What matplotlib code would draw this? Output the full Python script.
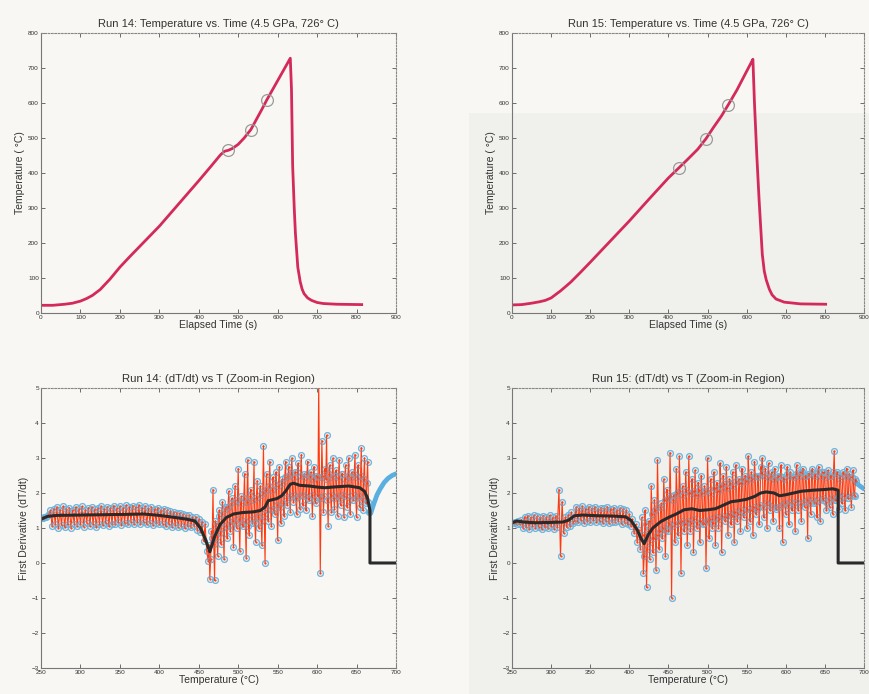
import numpy as np
import matplotlib
matplotlib.use("Agg")
import matplotlib.pyplot as plt
from matplotlib.patches import Rectangle

plt.rcParams['font.family'] = ['Liberation Sans', 'DejaVu Sans']

# ---------------- Temperature vs time ----------------
run14_time = [0, 30, 60, 80, 100, 115, 130, 150, 175, 200, 225, 250, 300, 350, 400, 430, 455,
              465, 475, 485, 500, 515, 532, 545, 560, 572, 590, 610, 625, 632,
              635, 638, 642, 645, 651, 657, 662, 667, 676, 686, 700, 716, 750, 813]
run14_temp = [22, 22, 25, 28, 34, 41, 50, 67, 97, 131, 161, 190, 248, 313, 378, 418, 452,
              462, 465, 470, 482, 500, 524, 551, 582, 608, 644, 684, 714, 728,
              640, 420, 300, 227, 131, 90, 68, 55, 43, 36, 30, 27, 25, 24]
run14_marks_t = [475, 532, 572]
run14_marks_T = [465, 524, 608]

run15_time = [0, 25, 50, 70, 85, 100, 125, 150, 175, 200, 250, 300, 350, 400, 427,
              450, 475, 496, 515, 535, 553, 575, 595, 610, 616,
              620, 626, 632, 640, 645, 650, 658, 665, 675, 696, 738, 802]
run15_temp = [23, 24, 28, 32, 36, 43, 64, 88, 116, 145, 204, 263, 325, 386, 415,
              440, 468, 498, 530, 562, 595, 637, 680, 712, 725,
              600, 450, 320, 168, 120, 95, 68, 52, 40, 31, 26, 25]
run15_marks_t = [427, 496, 553]
run15_marks_T = [415, 498, 595]

# ---------------- dT/dt vs T ----------------
# Run 14 raw derivative, every 2 degC starting at 252 degC
run14_dTdt = [
    1.28, 1.30, 1.32, 1.34, 1.40, 1.50,
    1.05, 1.55, 1.12, 1.60, 1.00, 1.52, 1.08, 1.62, 1.02, 1.55,
    1.10, 1.58, 1.00, 1.50, 1.12, 1.60, 1.05, 1.55, 1.10, 1.62,
    1.04, 1.52, 1.15, 1.58, 1.06, 1.60, 1.10, 1.54, 1.02, 1.56,
    1.12, 1.62, 1.08, 1.55, 1.14, 1.60, 1.05, 1.58, 1.12, 1.64,
    1.10, 1.56, 1.16, 1.62, 1.08, 1.58, 1.15, 1.66, 1.12, 1.60,
    1.18, 1.64, 1.10, 1.60, 1.16, 1.66, 1.12, 1.58, 1.18, 1.62,
    1.10, 1.56, 1.15, 1.60, 1.08, 1.54, 1.14, 1.58, 1.10, 1.52,
    1.12, 1.55, 1.05, 1.50, 1.10, 1.48, 1.04, 1.46, 1.08, 1.44,
    1.02, 1.42, 1.06, 1.40, 1.00, 1.38, 1.05, 1.36, 1.02, 1.30,
    1.05, 1.32, 0.95, 1.25, 0.88, 1.18, 0.62, 1.10, 0.35,
    0.05, -0.45, 0.90, 2.10, -0.50, 1.10, 0.20, 1.50, 0.55, 1.75,
    0.10, 1.60, 0.70, 2.05, 0.90, 1.85, 0.45, 2.20, 1.00, 2.70,
    0.35, 1.90, 1.05, 2.55, 0.15, 2.95, 0.80, 2.10, 1.15, 2.90,
    0.60, 2.35, 1.00, 2.20, 0.50, 3.35, 0.00, 2.55, 1.20, 2.90,
    1.05, 2.45, 1.40, 2.60, 0.65, 2.75, 1.15, 2.40, 1.35, 2.90,
    1.65, 2.75, 1.45, 3.00, 1.75, 2.60, 1.40, 2.85, 1.55, 3.10,
    1.65, 2.55, 1.50, 2.90, 1.80, 2.60, 1.35, 2.75, 1.70, 2.45,
    5.20, -0.30, 3.50, 1.45, 2.70, 3.65, 1.05, 2.80, 1.45, 3.00,
    1.55, 2.65, 1.35, 2.95, 1.65, 2.55, 1.30, 2.80, 1.60, 3.00,
    1.40, 2.60, 1.80, 3.10, 1.30, 2.80, 1.60, 3.30, 1.50, 3.00,
    1.70, 2.90, 1.45,
]
run14_T = 252 + 2 * np.arange(len(run14_dTdt))
# in-between readings of the noisy stretch, odd degC from 463
run14_mid = [
    0.50, 0.10, 0.70, 0.55, 1.20, 0.75, 1.35, 0.85, 1.40, 1.00,
    1.55, 1.05, 1.60, 1.10, 1.70, 1.20, 1.75, 1.15, 1.80, 1.25,
    1.70, 1.10, 1.85, 1.20, 1.75, 1.05, 1.90, 1.25, 1.80, 1.15,
    1.85, 1.30, 1.95, 1.20, 2.00, 1.40, 2.10, 1.50, 2.20, 1.55,
    2.10, 1.50, 2.25, 1.65, 2.20, 1.60, 2.30, 1.70, 2.45, 1.85,
    2.50, 1.90, 2.55, 1.95, 2.45, 1.85, 2.60, 1.90, 2.50, 1.95,
    2.45, 1.90, 2.55, 1.85, 2.50, 1.95, 2.40, 1.80, 2.50, 1.90,
    2.45, 1.85, 2.50, 1.90, 2.40, 1.80, 2.55, 1.95, 2.45, 1.85,
    2.50, 1.90, 2.45, 1.85, 2.55, 1.95, 2.40, 1.90, 2.50, 1.80,
    2.45, 1.95, 2.55, 1.85, 2.45, 1.90, 2.50, 1.80, 2.40, 1.85,
    2.30, 1.75,
]
run14_mid_T = 463 + 2 * np.arange(len(run14_mid))

run14_smooth_T = [250, 258, 270, 300, 330, 360, 380, 400, 420, 435, 445, 452, 458, 464,
                  470, 477, 485, 494, 505, 519, 528, 534, 538, 549, 555, 560, 566,
                  570, 578, 590, 600, 610, 620, 640, 654, 660, 664, 667, 667, 700]
run14_smooth = [1.25, 1.33, 1.36, 1.37, 1.38, 1.39, 1.40, 1.36, 1.30, 1.25, 1.20, 1.00, 0.70, 0.32,
                0.75, 1.10, 1.30, 1.40, 1.44, 1.46, 1.50, 1.60, 1.78, 1.84, 1.92, 2.05, 2.25,
                2.28, 2.22, 2.20, 2.17, 2.15, 2.17, 2.20, 2.15, 2.05, 1.85, 1.50, 0.0, 0.0]
run14_head_T = [250, 252, 256]
run14_head = [1.25, 1.28, 1.32]
run14_tail_T = [666, 668, 672, 676, 680, 685, 690, 695, 700]
run14_tail = [1.45, 1.42, 1.70, 1.95, 2.12, 2.30, 2.42, 2.50, 2.55]

# Run 15 raw derivative, every 2 degC starting at 252 degC
run15_dTdt = [
    1.15, 1.18, 1.12, 1.20, 1.10, 1.24,
    1.00, 1.32, 1.02, 1.35, 0.98, 1.30, 1.05, 1.36, 1.00, 1.33, 1.04, 1.30,
    0.98, 1.35, 1.02, 1.32, 1.00, 1.36, 1.05, 1.30, 0.98, 1.34, 1.02,
    2.10, 0.20, 1.75, 0.85, 1.30, 1.02, 1.38, 1.05, 1.45, 1.15,
    1.20, 1.60, 1.18, 1.58, 1.22, 1.62, 1.15, 1.55, 1.20, 1.60, 1.18, 1.56,
    1.22, 1.60, 1.16, 1.55, 1.20, 1.58, 1.15, 1.56, 1.20, 1.60, 1.14, 1.55,
    1.18, 1.58, 1.16, 1.52, 1.20, 1.56, 1.12, 1.55, 1.15, 1.50, 1.10,
    1.40, 1.05, 1.25, 0.85, 1.10, 0.60, 0.95, 0.40,
    1.30, -0.30, 1.50, -0.70, 0.90, 0.10, 2.20, 0.30,
    1.80, -0.20, 2.95, 0.40, 1.60, 0.70, 2.40, 0.20, 2.10, 0.90,
    3.15, -1.00, 1.80, 0.60, 2.70, 0.80, 3.05, -0.30, 2.20, 0.90,
    2.60, 0.50, 3.05, 0.90, 2.40, 0.30, 2.65, 1.00, 2.30, 0.60,
    2.50, 1.10, 2.20, -0.15, 3.00, 0.70, 2.40, 1.00, 2.60, 0.50,
    2.30, 1.00, 2.85, 0.30, 2.50, 1.20, 2.75, 0.80, 2.40, 1.10,
    2.60, 0.60, 2.80, 1.20, 2.40, 0.90, 2.70, 1.30, 2.50, 1.00,
    3.05, 1.20, 2.60, 0.80, 2.90, 1.40, 2.50, 1.10, 2.75, 3.00,
    1.30, 2.70, 1.00, 2.85, 1.50, 2.60, 1.20, 2.70, 1.60, 2.50,
    1.00, 2.80, 0.60, 2.40, 1.40, 2.75, 1.10, 2.60, 1.50, 2.45,
    0.90, 2.80, 1.50, 2.60, 1.20, 2.70, 1.60, 2.50, 0.70, 2.55,
    1.40, 2.70, 1.70, 2.50, 1.30, 2.75, 1.20, 2.60, 1.80, 2.45,
    1.50, 2.65, 1.60, 2.50, 1.40, 3.20, 1.80, 2.60, 1.55, 2.40,
    1.70, 2.55, 1.50, 2.70, 1.85, 2.45, 1.60, 2.65, 1.90, 2.35,
]
run15_T = 252 + 2 * np.arange(len(run15_dTdt))
# in-between readings of the noisy stretch, odd degC from 417
run15_mid = [
    0.80, 0.20, 1.10, 0.40, 1.20, 0.60, 1.40, 0.70, 1.50, 0.80,
    1.60, 0.90, 1.70, 1.00, 1.80, 0.95, 1.85, 1.10, 1.90, 1.05,
    1.95, 1.10, 2.00, 1.15, 2.05, 1.20, 1.95, 1.10, 2.10, 1.20,
    2.00, 1.15, 2.05, 1.25, 1.95, 1.10, 2.10, 1.20, 2.00, 1.15,
    2.05, 1.20, 2.10, 1.25, 2.00, 1.15, 2.15, 1.30, 2.05, 1.25,
    2.20, 1.35, 2.25, 1.30, 2.15, 1.40, 2.30, 1.35, 2.20, 1.45,
    2.35, 1.40, 2.30, 1.50, 2.40, 1.45, 2.35, 1.55, 2.45, 1.50,
    2.40, 1.60, 2.50, 1.55, 2.45, 1.65, 2.55, 1.60, 2.50, 1.70,
    2.45, 1.65, 2.50, 1.60, 2.40, 1.55, 2.45, 1.60, 2.50, 1.65,
    2.45, 1.70, 2.55, 1.65, 2.50, 1.75, 2.45, 1.70, 2.55, 1.75,
    2.50, 1.70, 2.60, 1.75, 2.50, 1.80, 2.55, 1.70, 2.60, 1.80,
    2.55, 1.75, 2.60, 1.80, 2.50, 1.85, 2.60, 1.75, 2.55, 1.80,
    2.50, 1.85, 2.60, 1.80, 2.55, 1.90, 2.50, 1.85, 2.60, 1.90,
    2.50, 1.85, 2.55, 1.90, 2.45, 1.95, 2.40,
]
run15_mid_T = 417 + 2 * np.arange(len(run15_mid))

run15_smooth_T = [250, 256, 265, 280, 300, 315, 322, 330, 340, 360, 380, 395, 402, 410,
                  415, 419, 424, 430, 440, 450, 460, 470, 480, 490, 500, 510, 520, 530,
                  540, 550, 560, 568, 575, 585, 592, 600, 610, 620, 635, 650, 660, 667, 667, 700]
run15_smooth = [1.15, 1.20, 1.17, 1.15, 1.16, 1.17, 1.22, 1.35, 1.37, 1.35, 1.34, 1.32, 1.22, 0.95,
                0.70, 0.55, 0.80, 1.00, 1.18, 1.30, 1.40, 1.52, 1.55, 1.50, 1.52, 1.55, 1.65, 1.75,
                1.78, 1.82, 1.90, 2.00, 2.03, 2.00, 1.92, 1.95, 2.00, 2.05, 2.08, 2.10, 2.12, 2.08, 0.0, 0.0]
run15_head_T = [250, 252, 256]
run15_head = [1.15, 1.15, 1.17]
run15_tail_T = [688, 692, 696, 700]
run15_tail = [2.30, 2.25, 2.18, 2.12]

# ---------------- styling ----------------
PAPER = '#f8f7f3'
CURVE = '#d32a5a'
BLUE = '#5aaee0'
RED = '#ff3a10'
INK = '#2a2a2a'

fig = plt.figure(figsize=(8.69, 6.94), dpi=100, facecolor=PAPER)
fig.patches.append(Rectangle((0.54, 0.0), 0.46, 0.837, transform=fig.transFigure,
                             facecolor='#f0f0ed', edgecolor='none', zorder=-1))


def style_axes(ax):
    ax.set_facecolor('none')
    ax.tick_params(direction='in', length=3, width=0.6, labelsize=4.6,
                   top=True, right=True, colors='#555555', labelcolor='#333333', pad=1.5)
    for s in ('left', 'bottom'):
        ax.spines[s].set_color('#777777')
        ax.spines[s].set_linewidth(0.8)
    for s in ('top', 'right'):
        ax.spines[s].set_color('#888888')
        ax.spines[s].set_linewidth(0.8)
        ax.spines[s].set_linestyle((0, (1.5, 1.5)))


def temp_panel(rect, t, T, mt, mT, title):
    ax = fig.add_axes(rect)
    style_axes(ax)
    ax.plot(t, T, color=CURVE, lw=2.0, solid_joinstyle='round')
    ax.plot(mt, mT, 'o', ms=8.5, mfc='none', mec='#9a9a9a', mew=0.9)
    ax.set_xlim(0, 900)
    ax.set_ylim(0, 800)
    ax.set_xticks(np.arange(0, 901, 100))
    ax.set_yticks(np.arange(0, 801, 100))
    ax.set_title(title, fontsize=8, color='#333333', pad=4)
    ax.set_xlabel('Elapsed Time (s)', fontsize=7.5, color='#333333', labelpad=0)
    ax.set_ylabel('Temperature ( °C)', fontsize=7.5, color='#333333', labelpad=2)
    return ax


def deriv_panel(rect, T, d, mT, md, sT, s, hT, hv, tT, tv, title):
    ax = fig.add_axes(rect)
    style_axes(ax)
    allT = np.concatenate([T, mT])
    alld = np.concatenate([d, md])
    order = np.argsort(allT, kind='stable')
    allT, alld = allT[order], alld[order]
    ax.plot(hT, hv, color=BLUE, lw=3.4, solid_capstyle='round')
    ax.plot(tT, tv, color=BLUE, lw=3.4, solid_capstyle='round')
    ax.plot(allT, alld, 'o', ms=4.2, mfc='none', mec=BLUE, mew=0.9, alpha=0.9)
    ax.plot(allT, alld, '-', color=RED, lw=0.8, marker='.', ms=1.2)
    ax.plot(allT, alld, 'o', ms=4.2, mfc='none', mec='#7fb8d8', mew=0.6, alpha=0.45)
    ax.plot(sT, s, color=INK, lw=2.2)
    ax.set_xlim(250, 700)
    ax.set_ylim(-3, 5)
    ax.set_xticks(np.arange(250, 701, 50))
    ax.set_yticks(np.arange(-3, 6, 1))
    ax.set_title(title, fontsize=8.2, color='#333333', pad=4)
    ax.set_xlabel('Temperature (°C)', fontsize=7.5, color='#333333', labelpad=0)
    ax.set_ylabel('First Derivative (dT/dt)', fontsize=7.5, color='#333333', labelpad=2)
    return ax


temp_panel([0.0472, 0.549, 0.4085, 0.4034], run14_time, run14_temp,
           run14_marks_t, run14_marks_T,
           'Run 14: Temperature vs. Time (4.5 GPa, 726° C)')
temp_panel([0.5892, 0.549, 0.405, 0.4034], run15_time, run15_temp,
           run15_marks_t, run15_marks_T,
           'Run 15: Temperature vs. Time (4.5 GPa, 726° C)')
deriv_panel([0.0472, 0.0375, 0.4085, 0.4034], run14_T, run14_dTdt,
            run14_mid_T, run14_mid, run14_smooth_T, run14_smooth,
            run14_head_T, run14_head, run14_tail_T, run14_tail,
            'Run 14: (dT/dt) vs T (Zoom-in Region)')
deriv_panel([0.5892, 0.0375, 0.405, 0.4034], run15_T, run15_dTdt,
            run15_mid_T, run15_mid, run15_smooth_T, run15_smooth,
            run15_head_T, run15_head, run15_tail_T, run15_tail,
            'Run 15: (dT/dt) vs T (Zoom-in Region)')

fig.savefig('out.png', dpi=100, facecolor=PAPER)
